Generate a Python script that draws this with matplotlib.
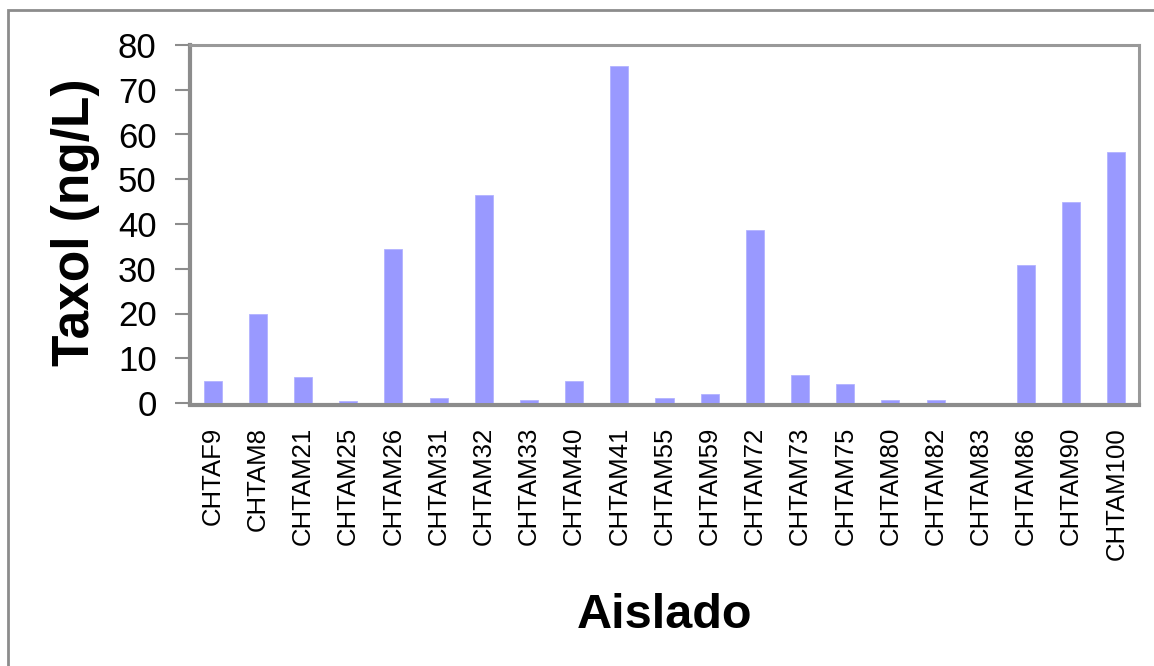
import matplotlib
matplotlib.use("Agg")
import matplotlib.pyplot as plt
from matplotlib.patches import Rectangle

# Taxol yield per fungal isolate
isolates = ["CHTAF9", "CHTAM8", "CHTAM21", "CHTAM25", "CHTAM26", "CHTAM31",
            "CHTAM32", "CHTAM33", "CHTAM40", "CHTAM41", "CHTAM55", "CHTAM59",
            "CHTAM72", "CHTAM73", "CHTAM75", "CHTAM80", "CHTAM82", "CHTAM83",
            "CHTAM86", "CHTAM90", "CHTAM100"]
taxol = [4.9, 20.0, 5.8, 0.4, 34.4, 1.2,
         46.5, 0.6, 4.9, 75.3, 1.2, 2.1,
         38.6, 6.3, 4.3, 0.6, 0.6, 0.0,
         30.8, 44.9, 56.1]
y_ticks = [0, 10, 20, 30, 40, 50, 60, 70, 80]

plt.rcParams["font.family"] = ["Liberation Sans", "DejaVu Sans"]

W, H = 1154, 666
fig = plt.figure(figsize=(W / 100, H / 100), dpi=100)
fig.patch.set_facecolor("white")

# Outer chart-area border (runs off the right and bottom edges)
fig.patches.append(Rectangle((8 / W, -0.05), 1.2, 1 - 10 / H + 0.05,
                             transform=fig.transFigure, fill=False,
                             edgecolor="#8c8c8c", linewidth=2, zorder=0))

ax = fig.add_axes([190 / W, 1 - 403 / H, (1139 - 190) / W, (403 - 45) / H])

# Spine styling first: set_position resets the axis' tick setup
for side in ["left", "bottom"]:
    ax.spines[side].set_color("#8c8c8c")
    ax.spines[side].set_linewidth(3)
ax.spines["bottom"].set_position(("outward", 1.2))
for side in ["top", "right"]:
    ax.spines[side].set_color("#999999")
    ax.spines[side].set_linewidth(2.2)

x = list(range(len(isolates)))
ax.bar(x, taxol, width=0.4, color="#9999FF", edgecolor="#b3b3ff",
       linewidth=0.6, zorder=3)

ax.set_xlim(-0.5, len(isolates) - 0.5)
ax.set_ylim(0, 80)
ax.set_yticks(y_ticks)
ax.set_yticklabels([str(v) for v in y_ticks], fontsize=25)
ax.set_xticks(x)
ax.set_xticklabels(isolates, rotation=90, fontsize=18.5)

ax.tick_params(axis="y", direction="out", length=11, width=1.5,
               color="#8c8c8c", pad=13)
ax.tick_params(axis="x", length=0, pad=16)

fig.text(75 / W, 1 - 222 / H, "Taxol (ng/L)", rotation=90, fontsize=37,
         fontweight="bold", ha="center", va="center")
fig.text(665 / W, 1 - 615 / H, "Aislado", fontsize=35,
         fontweight="bold", ha="center", va="center")

fig.savefig("out.png", dpi=100, facecolor="white")
